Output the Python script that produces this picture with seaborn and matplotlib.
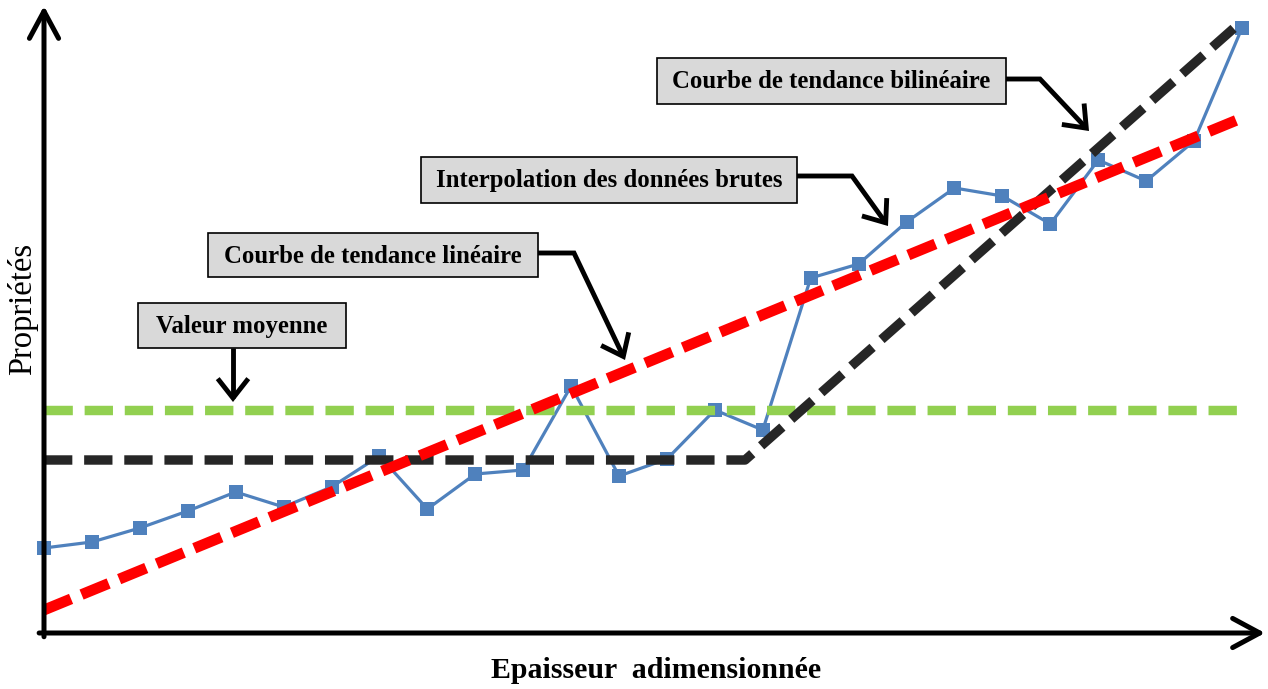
import numpy as np
import pandas as pd
import matplotlib
matplotlib.use("Agg")
import matplotlib.pyplot as plt
import seaborn as sns
from matplotlib.patches import FancyArrowPatch, Rectangle
from matplotlib.path import Path
from matplotlib.transforms import Affine2D

# ---------------- data ----------------
positions = list(range(26))
raw_values = [0.85, 0.91, 1.05, 1.22, 1.41, 1.26, 1.46, 1.77, 1.24, 1.59,
              1.63, 2.47, 1.57, 1.74, 2.23, 2.03, 3.55, 3.69, 4.11, 4.45,
              4.37, 4.09, 4.73, 4.52, 4.92, 6.05]
mean_x = [0, 25]
mean_y = [2.23, 2.23]
linear_x = [0, 25]
linear_y = [0.23, 5.15]
bilinear_x = [0, 14.63, 25]
bilinear_y = [1.73, 1.73, 6.12]

box_labels = ["Valeur moyenne", "Courbe de tendance linéaire",
              "Interpolation des données brutes", "Courbe de tendance bilinéaire"]
x_label = "Epaisseur  adimensionnée"
y_label = "Propriétés"

# ---------------- style ----------------
sns.set_theme(style="white")
plt.rcParams["font.family"] = ["Liberation Serif", "DejaVu Serif"]
plt.rcParams["text.color"] = "black"

W, H = 1268, 689
fig = plt.figure(figsize=(W / 100, H / 100), dpi=100)
fig.patch.set_facecolor("white")

ox, oy = 44, 633          # origin in pixels
tip_x, tip_y = 1265, 6    # arrow tips
step = 47.92              # pixels per index
yscale = 100.0            # pixels per unit

ax = fig.add_axes([ox / W, (H - oy) / H, (tip_x - ox) / W, (oy - tip_y) / H])
ax.set_xlim(0, (tip_x - ox) / step)
ax.set_ylim(0, (oy - tip_y) / yscale)
ax.set_xticks([])
ax.set_yticks([])
for s in ax.spines.values():
    s.set_visible(False)
ax.set_facecolor("none")

# raw data
sns.lineplot(x=positions, y=raw_values, ax=ax, color="#4F81BD", lw=2.3,
             marker="s", markersize=10, markeredgewidth=0, clip_on=False,
             zorder=2, sort=False)
# mean value
sns.lineplot(x=mean_x, y=mean_y, ax=ax, color="#92D050", lw=6.8,
             linestyle=(0, (3.0, 1.25)), zorder=3, clip_on=False)
# bilinear trend
sns.lineplot(x=bilinear_x, y=bilinear_y, ax=ax, color="#262626", lw=6.8,
             linestyle=(0, (3.0, 1.25)), zorder=4, clip_on=False, sort=False)
# linear trend
sns.lineplot(x=linear_x, y=linear_y, ax=ax, color="#FF0000", lw=7.8,
             linestyle=(0, (2.7, 1.05)), zorder=5, clip_on=False)

# axis arrows
axis_arrow = dict(arrowstyle="->,head_length=0.78,head_width=0.42",
                  mutation_scale=25, lw=3.6, color="black",
                  shrinkA=0, shrinkB=0)
ax.annotate("", xy=(1, 0), xytext=(-0.004, 0), xycoords="axes fraction",
            textcoords="axes fraction", arrowprops=axis_arrow, zorder=6)
ax.annotate("", xy=(0, 1), xytext=(0, -0.006), xycoords="axes fraction",
            textcoords="axes fraction", arrowprops=axis_arrow, zorder=6)

# pixel transform (origin top-left)
pix = Affine2D().scale(1 / W, -1 / H).translate(0, 1) + fig.transFigure

boxes = [(138, 303, 346, 348), (208, 233, 538, 277),
         (421, 157, 797, 203), (657, 58, 1006, 104)]
leaders = [[(233, 348), (233, 402)],
           [(538, 253), (574, 253), (625, 360)],
           [(797, 176), (852, 176), (888, 226)],
           [(1006, 79), (1040, 79), (1089, 131)]]

for label, (x0, y0, x1, y1) in zip(box_labels, boxes):
    rect = Rectangle((x0, y0), x1 - x0, y1 - y0, transform=pix,
                     facecolor="#D9D9D9", edgecolor="black", lw=1.2, zorder=7)
    fig.add_artist(rect)
    fig.text((x0 + x1) / 2 / W, 1 - ((y0 + y1) / 2 + 1) / H, label,
             ha="center", va="center", fontsize=17.8, fontweight="bold",
             color="black", zorder=8)

for pts in leaders:
    arr = FancyArrowPatch(path=Path(pts), transform=pix,
                          arrowstyle="->,head_length=0.7,head_width=0.55",
                          mutation_scale=20, lw=3.5, color="black",
                          capstyle="butt", joinstyle="miter", zorder=7)
    fig.add_artist(arr)

fig.text(656 / W, 1 - 671 / H, x_label, ha="center", va="center",
         fontsize=21.5, fontweight="bold", color="black")
fig.text(23 / W, 1 - 309 / H, y_label, ha="center", va="center",
         fontsize=23.5, rotation=90, color="black")

fig.savefig("out.png", dpi=100, facecolor="white")
